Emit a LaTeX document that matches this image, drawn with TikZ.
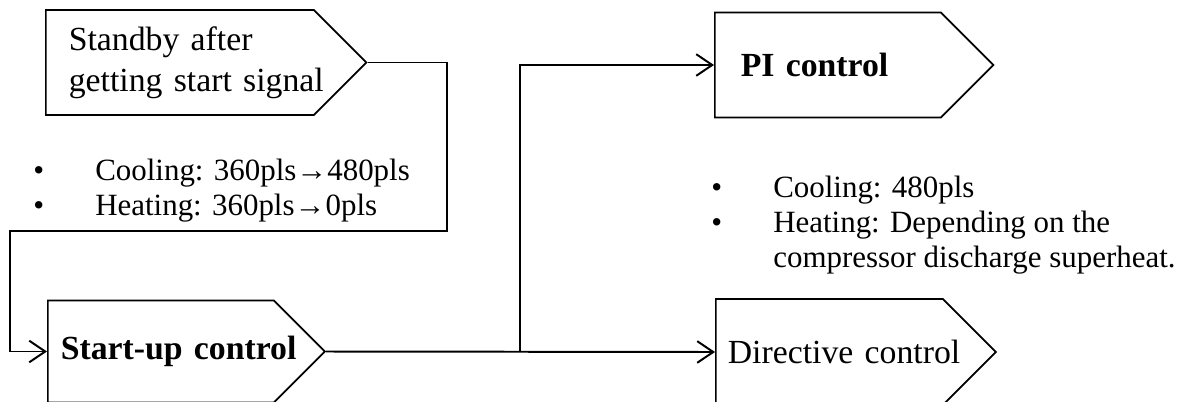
\documentclass[tikz,border=0pt]{standalone}
\usepackage{fontspec}
\setmainfont{Liberation Serif}
\usetikzlibrary{arrows.meta,positioning,shapes.symbols}
\tikzset{
  tag/.style={signal,signal to=east,signal pointer angle=90,draw=black,line width=1.2pt,
              align=left,inner xsep=0.3cm,inner ysep=0pt,anchor=west,
              font=\fontsize{24}{29}\selectfont,text width=5.05cm,minimum height=2.62cm},
  fl/.style={-{Straight Barb[length=4mm,width=5.4mm]},line width=1.4pt},
  note/.style={font=\fontsize{22}{25}\selectfont,align=left,inner sep=0pt,anchor=base west}
}
\begin{document}
\begin{tikzpicture}[x=0.025cm,y=-0.025cm]
  \clip (0,0) rectangle (1195,401);
  \node[tag,inner xsep=0.575cm,text width=5.55cm] (standby) at (45,62.5)
    {\mbox{Standby after}\\\mbox{getting start signal}};
  \node[tag,inner xsep=0.325cm,text width=5cm,minimum height=2.55cm] (startup) at (47,351.5)
    {\mbox{\bfseries Start-up control}};
  \node[tag,inner xsep=0.65cm,text width=4.35cm] (pi) at (714,65) {\mbox{\bfseries PI control}};
  \node[tag,inner xsep=0.3cm,text width=5.075cm,minimum height=2.65cm] (directive) at (715,352)
    {\mbox{Directive control}};

  \node[note] (startnote) at (33,180) {\begin{tabular}[t]{@{}p{1.55cm}@{}l@{}}
    \textbullet & Cooling: 360pls→480pls\\
    \textbullet & Heating: 360pls→0pls
  \end{tabular}};
  \node[note] (pinote) at (711,197) {\begin{tabular}[t]{@{}p{1.55cm}@{}l@{}}
    \textbullet & Cooling: 480pls\\
    \textbullet & Heating: Depending on the\\
                & compressor discharge superheat.
  \end{tabular}};

  \coordinate (loopR) at (447,231);
  \coordinate (loopL) at (10,231);
  \coordinate (split) at (520,352);
  \draw[fl] (standby.east) -| (loopR) -- (loopL) |- (startup.west);
  \draw[fl] (startup.east) -- (directive.west);
  \draw[fl] (split) |- (pi.west);
\end{tikzpicture}
\end{document}
